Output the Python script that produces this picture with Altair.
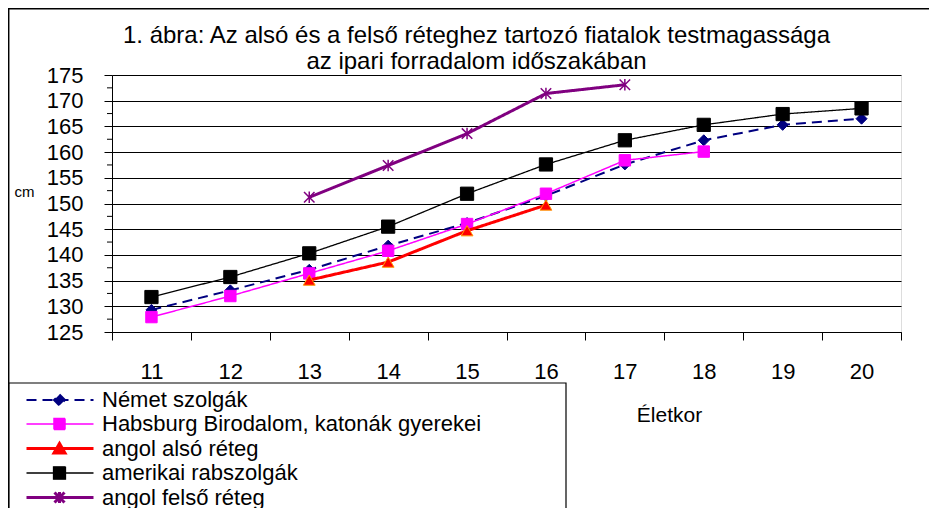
import altair as alt
import pandas as pd

# ---------------- data ----------------
ages = ["11", "12", "13", "14", "15", "16", "17", "18", "19", "20"]
series_names = [
    "Német szolgák",
    "Habsburg Birodalom, katonák gyerekei",
    "angol alsó réteg",
    "amerikai rabszolgák",
    "angol felső réteg",
]
nemet_ages = ages
nemet = [129.3, 133.1, 137.1, 141.8, 146.2, 151.5, 157.6, 162.3, 165.3, 166.5]
habsburg_ages = ["11", "12", "13", "14", "15", "16", "17", "18"]
habsburg = [127.9, 132.0, 136.4, 140.8, 146.0, 151.9, 158.4, 160.1]
angol_also_ages = ["13", "14", "15", "16"]
angol_also = [135.1, 138.6, 144.7, 149.7]
amerikai_ages = ages
amerikai = [131.8, 135.7, 140.3, 145.5, 151.9, 157.6, 162.3, 165.3, 167.4, 168.5]
angol_felso_ages = ["13", "14", "15", "16", "17"]
angol_felso = [151.2, 157.4, 163.6, 171.4, 173.1]

y_ticks = [125, 130, 135, 140, 145, 150, 155, 160, 165, 170, 175]
minor_ticks = [127.5, 132.5, 137.5, 142.5, 147.5, 152.5, 157.5, 162.5, 167.5, 172.5]

title_lines = [
    "1. ábra: Az alsó és a felső réteghez tartozó fiatalok testmagassága",
    "az ipari forradalom időszakában",
]

FONT = "Liberation Sans"

# ---------------- styles ----------------
ASTER = "M-1,-1L1,1M-1,1L1,-1M0,-1.1L0,1.1"
styles = {
    "Német szolgák": dict(color="#000080", width=2, dash=[10, 6], shape="diamond",
                          size=121, fill="#000080", pstroke="#000080", filled=True),
    "Habsburg Birodalom, katonák gyerekei": dict(color="#FF00FF", width=1.5, dash=[1, 0], shape="square",
                                               size=130, fill="#FF00FF", pstroke="#FF00FF", filled=True),
    "angol alsó réteg": dict(color="#FF0000", width=3, dash=[1, 0], shape="triangle-up",
                             size=140, fill="#FF0000", pstroke="#FF9900", filled=True),
    "amerikai rabszolgák": dict(color="#000000", width=1.3, dash=[1, 0], shape="square",
                                size=175, fill="#000000", pstroke="#000000", filled=True),
    "angol felső réteg": dict(color="#800080", width=3, dash=[1, 0], shape=ASTER,
                              size=110, fill="#800080", pstroke="#800080", filled=False),
}

series_data = {
    "Német szolgák": (nemet_ages, nemet),
    "Habsburg Birodalom, katonák gyerekei": (habsburg_ages, habsburg),
    "angol alsó réteg": (angol_also_ages, angol_also),
    "amerikai rabszolgák": (amerikai_ages, amerikai),
    "angol felső réteg": (angol_felso_ages, angol_felso),
}

x_enc = alt.X(
    "age:O",
    scale=alt.Scale(type="band", domain=ages, paddingInner=0, paddingOuter=0),
    axis=alt.Axis(
        title="Életkor", titleFontSize=21, titleFontWeight="normal", titleColor="black",
        titleX=557, titleY=83, titleAlign="center", titleBaseline="middle",
        labelAngle=0, labelFontSize=22, labelPadding=21, labelColor="black",
        tickSize=8, tickBand="extent", tickColor="black", domainColor="black",
        grid=False, labelOverlap=False,
    ),
)
y_enc = alt.Y(
    "height:Q",
    scale=alt.Scale(domain=[125, 175], nice=False, zero=False),
    axis=alt.Axis(
        title="cm", titleAngle=0, titleX=-88, titleY=116, titleAlign="center",
        titleBaseline="middle", titleFontSize=15, titleFontWeight="normal", titleColor="black",
        values=y_ticks, labelFontSize=22, labelPadding=21, labelColor="black",
        tickSize=8, tickColor="black", domainColor="black", grid=True,
        gridColor="black", gridWidth=1, labelOverlap=False,
    ),
)

layers = []

# minor ticks on y axis
minor_df = pd.DataFrame({"height": minor_ticks})
layers.append(
    alt.Chart(minor_df).mark_rule(color="black", strokeWidth=1).encode(
        y=y_enc, x=alt.value(-5), x2=alt.value(0)
    )
)

for name in series_names:
    a, h = series_data[name]
    df = pd.DataFrame({"age": a, "height": h})
    st = styles[name]
    layers.append(
        alt.Chart(df).mark_line(
            color=st["color"], strokeWidth=st["width"], strokeDash=st["dash"]
        ).encode(x=x_enc, y=y_enc)
    )
    if st["filled"]:
        pt = alt.Chart(df).mark_point(
            shape=st["shape"], size=st["size"], filled=True, opacity=1,
            fill=st["fill"], stroke=st["pstroke"], strokeWidth=1,
        )
    else:
        pt = alt.Chart(df).mark_point(
            shape=st["shape"], size=st["size"], filled=False, opacity=1,
            stroke=st["pstroke"], strokeWidth=1.5,
        )
    layers.append(pt.encode(x=x_enc, y=y_enc))

# legend (line + marker symbols)
def leg_path(marker):
    return "M-1,0H5.7" + marker

legend_shapes = [
    leg_path("M2.3,-0.55L2.85,0L2.3,0.55L1.75,0Z"),
    leg_path("M1.75,-0.55H2.85V0.55H1.75Z"),
    leg_path("M2.3,-0.5L2.85,0.45L1.75,0.45Z"),
    leg_path("M1.7,-0.62H2.9V0.62H1.7Z"),
    leg_path("M1.8,-0.5L2.8,0.5M1.8,0.5L2.8,-0.5M2.3,-0.55V0.55"),
]
legend_fill = [styles[n]["fill"] for n in series_names]
legend_stroke = [styles[n]["color"] for n in series_names]
legend_dash = [styles[n]["dash"] for n in series_names]
legend_width = [styles[n]["width"] for n in series_names]

leg = alt.Legend(
    title=None, orient="none", legendX=-87, legendY=314, symbolSize=400,
    labelFontSize=22, labelOffset=54, rowPadding=2, labelColor="black",
    padding=0, labelLimit=800, labelFont=FONT,
)
legend_df = pd.DataFrame({"series": series_names})
layers.append(
    alt.Chart(legend_df).transform_filter("false").mark_point(filled=True, opacity=1).encode(
        fill=alt.Fill("series:N", scale=alt.Scale(domain=series_names, range=legend_fill), legend=leg),
        stroke=alt.Stroke("series:N", scale=alt.Scale(domain=series_names, range=legend_stroke), legend=leg),
        shape=alt.Shape("series:N", scale=alt.Scale(domain=series_names, range=legend_shapes), legend=leg),
        strokeDash=alt.StrokeDash("series:N", scale=alt.Scale(domain=series_names, range=legend_dash), legend=leg),
        strokeWidth=alt.StrokeWidth("series:N", scale=alt.Scale(type="ordinal", domain=series_names, range=legend_width), legend=leg),
    )
)

# frame and legend box
one = pd.DataFrame({"k": [0]})
layers.append(alt.Chart(one).mark_rule(color="black", strokeWidth=1.5).encode(
    x=alt.value(-104), x2=alt.value(830), y=alt.value(-66.3)))
layers.append(alt.Chart(one).mark_rule(color="black", strokeWidth=1.5).encode(
    x=alt.value(-103.3), y=alt.value(-67), y2=alt.value(460)))
layers.append(alt.Chart(one).mark_rect(fillOpacity=0, stroke="black", strokeWidth=1.2).encode(
    x=alt.value(-103.3), x2=alt.value(454), y=alt.value(308), y2=alt.value(470)))

chart = alt.layer(*layers).properties(
    width=789, height=257,
    padding={"left": 104, "top": 67, "right": 28, "bottom": 176},
    autosize=alt.AutoSizeParams(type="none"),
    title=alt.Title(
        text=title_lines, fontSize=24, fontWeight="normal", font=FONT, color="black",
        anchor="middle", dx=-30, offset=-67, lineHeight=26,
    ),
).configure_view(fill="#C0C0C0", stroke="#808080", strokeWidth=1).configure(font=FONT)

chart.save("out.html", embed_options={"renderer": "svg", "actions": False})
